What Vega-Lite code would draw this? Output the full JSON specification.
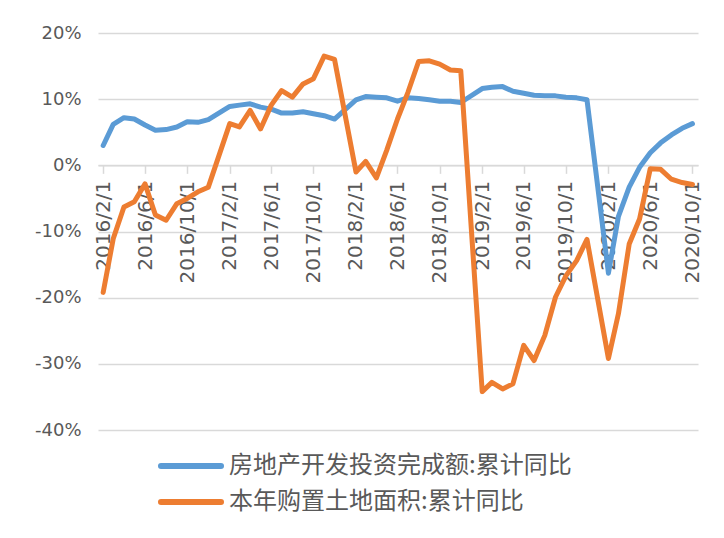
{
  "$schema": "https://vega.github.io/schema/vega-lite/v6.json",
  "width": 600,
  "height": 397,
  "autosize": "none",
  "padding": {"left": 98, "top": 33, "right": 26, "bottom": 108},
  "background": "white",
  "config": {"view": {"stroke": null}},
  "data": {"values": [
    {"date": "2016-02-01", "房地产开发投资完成额:累计同比": 3.0, "本年购置土地面积:累计同比": -19.2},
    {"date": "2016-03-01", "房地产开发投资完成额:累计同比": 6.2, "本年购置土地面积:累计同比": -11.1},
    {"date": "2016-04-01", "房地产开发投资完成额:累计同比": 7.2, "本年购置土地面积:累计同比": -6.3},
    {"date": "2016-05-01", "房地产开发投资完成额:累计同比": 7.0, "本年购置土地面积:累计同比": -5.5},
    {"date": "2016-06-01", "房地产开发投资完成额:累计同比": 6.1, "本年购置土地面积:累计同比": -2.8},
    {"date": "2016-07-01", "房地产开发投资完成额:累计同比": 5.3, "本年购置土地面积:累计同比": -7.5},
    {"date": "2016-08-01", "房地产开发投资完成额:累计同比": 5.4, "本年购置土地面积:累计同比": -8.3},
    {"date": "2016-09-01", "房地产开发投资完成额:累计同比": 5.8, "本年购置土地面积:累计同比": -5.8},
    {"date": "2016-10-01", "房地产开发投资完成额:累计同比": 6.6, "本年购置土地面积:累计同比": -5.0},
    {"date": "2016-11-01", "房地产开发投资完成额:累计同比": 6.5, "本年购置土地面积:累计同比": -4.0},
    {"date": "2016-12-01", "房地产开发投资完成额:累计同比": 6.9, "本年购置土地面积:累计同比": -3.3},
    {"date": "2017-02-01", "房地产开发投资完成额:累计同比": 8.9, "本年购置土地面积:累计同比": 6.3},
    {"date": "2017-03-01", "房地产开发投资完成额:累计同比": 9.1, "本年购置土地面积:累计同比": 5.8},
    {"date": "2017-04-01", "房地产开发投资完成额:累计同比": 9.3, "本年购置土地面积:累计同比": 8.3},
    {"date": "2017-05-01", "房地产开发投资完成额:累计同比": 8.8, "本年购置土地面积:累计同比": 5.5},
    {"date": "2017-06-01", "房地产开发投资完成额:累计同比": 8.5, "本年购置土地面积:累计同比": 9.1},
    {"date": "2017-07-01", "房地产开发投资完成额:累计同比": 7.9, "本年购置土地面积:累计同比": 11.3},
    {"date": "2017-08-01", "房地产开发投资完成额:累计同比": 7.9, "本年购置土地面积:累计同比": 10.3},
    {"date": "2017-09-01", "房地产开发投资完成额:累计同比": 8.1, "本年购置土地面积:累计同比": 12.3},
    {"date": "2017-10-01", "房地产开发投资完成额:累计同比": 7.8, "本年购置土地面积:累计同比": 13.1},
    {"date": "2017-11-01", "房地产开发投资完成额:累计同比": 7.5, "本年购置土地面积:累计同比": 16.5},
    {"date": "2017-12-01", "房地产开发投资完成额:累计同比": 7.0, "本年购置土地面积:累计同比": 16.0},
    {"date": "2018-02-01", "房地产开发投资完成额:累计同比": 9.9, "本年购置土地面积:累计同比": -1.0},
    {"date": "2018-03-01", "房地产开发投资完成额:累计同比": 10.4, "本年购置土地面积:累计同比": 0.6},
    {"date": "2018-04-01", "房地产开发投资完成额:累计同比": 10.3, "本年购置土地面积:累计同比": -1.9},
    {"date": "2018-05-01", "房地产开发投资完成额:累计同比": 10.2, "本年购置土地面积:累计同比": 2.3},
    {"date": "2018-06-01", "房地产开发投资完成额:累计同比": 9.7, "本年购置土地面积:累计同比": 7.0},
    {"date": "2018-07-01", "房地产开发投资完成额:累计同比": 10.2, "本年购置土地面积:累计同比": 11.0},
    {"date": "2018-08-01", "房地产开发投资完成额:累计同比": 10.1, "本年购置土地面积:累计同比": 15.7},
    {"date": "2018-09-01", "房地产开发投资完成额:累计同比": 9.9, "本年购置土地面积:累计同比": 15.8},
    {"date": "2018-10-01", "房地产开发投资完成额:累计同比": 9.7, "本年购置土地面积:累计同比": 15.3},
    {"date": "2018-11-01", "房地产开发投资完成额:累计同比": 9.7, "本年购置土地面积:累计同比": 14.4},
    {"date": "2018-12-01", "房地产开发投资完成额:累计同比": 9.5, "本年购置土地面积:累计同比": 14.3},
    {"date": "2019-02-01", "房地产开发投资完成额:累计同比": 11.6, "本年购置土地面积:累计同比": -34.2},
    {"date": "2019-03-01", "房地产开发投资完成额:累计同比": 11.8, "本年购置土地面积:累计同比": -32.8},
    {"date": "2019-04-01", "房地产开发投资完成额:累计同比": 11.9, "本年购置土地面积:累计同比": -33.8},
    {"date": "2019-05-01", "房地产开发投资完成额:累计同比": 11.2, "本年购置土地面积:累计同比": -33.0},
    {"date": "2019-06-01", "房地产开发投资完成额:累计同比": 10.9, "本年购置土地面积:累计同比": -27.2},
    {"date": "2019-07-01", "房地产开发投资完成额:累计同比": 10.6, "本年购置土地面积:累计同比": -29.5},
    {"date": "2019-08-01", "房地产开发投资完成额:累计同比": 10.5, "本年购置土地面积:累计同比": -25.7},
    {"date": "2019-09-01", "房地产开发投资完成额:累计同比": 10.5, "本年购置土地面积:累计同比": -19.9},
    {"date": "2019-10-01", "房地产开发投资完成额:累计同比": 10.3, "本年购置土地面积:累计同比": -16.7},
    {"date": "2019-11-01", "房地产开发投资完成额:累计同比": 10.2, "本年购置土地面积:累计同比": -14.4},
    {"date": "2019-12-01", "房地产开发投资完成额:累计同比": 9.9, "本年购置土地面积:累计同比": -11.2},
    {"date": "2020-02-01", "房地产开发投资完成额:累计同比": -16.3, "本年购置土地面积:累计同比": -29.2},
    {"date": "2020-03-01", "房地产开发投资完成额:累计同比": -7.7, "本年购置土地面积:累计同比": -22.4},
    {"date": "2020-04-01", "房地产开发投资完成额:累计同比": -3.3, "本年购置土地面积:累计同比": -11.9},
    {"date": "2020-05-01", "房地产开发投资完成额:累计同比": -0.3, "本年购置土地面积:累计同比": -8.1},
    {"date": "2020-06-01", "房地产开发投资完成额:累计同比": 1.9, "本年购置土地面积:累计同比": -0.5},
    {"date": "2020-07-01", "房地产开发投资完成额:累计同比": 3.4, "本年购置土地面积:累计同比": -0.6},
    {"date": "2020-08-01", "房地产开发投资完成额:累计同比": 4.6, "本年购置土地面积:累计同比": -2.1},
    {"date": "2020-09-01", "房地产开发投资完成额:累计同比": 5.6, "本年购置土地面积:累计同比": -2.6},
    {"date": "2020-10-01", "房地产开发投资完成额:累计同比": 6.3, "本年购置土地面积:累计同比": -2.9}
  ]},
  "transform": [
    {"fold": ["房地产开发投资完成额:累计同比", "本年购置土地面积:累计同比"], "as": ["series", "value"]}
  ],
  "mark": {"type": "line", "strokeWidth": 5, "strokeCap": "round", "strokeJoin": "round"},
  "encoding": {
    "x": {
      "field": "date",
      "type": "temporal",
      "scale": {
        "type": "utc",
        "domain": [
          {"year": 2016, "month": 1, "date": 17, "utc": true},
          {"year": 2020, "month": 10, "date": 17, "utc": true}
        ]
      },
      "axis": {
        "title": null,
        "format": "%Y/%-m/%-d",
        "values": [
          {"year": 2016, "month": 2, "date": 1, "utc": true},
          {"year": 2016, "month": 6, "date": 1, "utc": true},
          {"year": 2016, "month": 10, "date": 1, "utc": true},
          {"year": 2017, "month": 2, "date": 1, "utc": true},
          {"year": 2017, "month": 6, "date": 1, "utc": true},
          {"year": 2017, "month": 10, "date": 1, "utc": true},
          {"year": 2018, "month": 2, "date": 1, "utc": true},
          {"year": 2018, "month": 6, "date": 1, "utc": true},
          {"year": 2018, "month": 10, "date": 1, "utc": true},
          {"year": 2019, "month": 2, "date": 1, "utc": true},
          {"year": 2019, "month": 6, "date": 1, "utc": true},
          {"year": 2019, "month": 10, "date": 1, "utc": true},
          {"year": 2020, "month": 2, "date": 1, "utc": true},
          {"year": 2020, "month": 6, "date": 1, "utc": true},
          {"year": 2020, "month": 10, "date": 1, "utc": true}
        ],
        "labelAngle": -90,
        "labelFont": "DejaVu Sans",
        "labelFontSize": 20,
        "labelColor": "#595959",
        "labelPadding": 7,
        "labelOverlap": false,
        "labelFlush": false,
        "domainColor": "#d9d9d9",
        "domainWidth": 1.5,
        "tickColor": "#d9d9d9",
        "tickWidth": 1.5,
        "tickSize": 8,
        "grid": false,
        "offset": -264.67
      }
    },
    "y": {
      "field": "value",
      "type": "quantitative",
      "scale": {"domain": [-40, 20], "nice": false, "zero": false},
      "axis": {
        "title": null,
        "values": [-40, -30, -20, -10, 0, 10, 20],
        "labelExpr": "datum.value + '%'",
        "domain": false,
        "ticks": false,
        "labelPadding": 17,
        "labelFont": "DejaVu Sans",
        "labelFontSize": 18,
        "labelColor": "#595959",
        "gridColor": "#d9d9d9",
        "gridWidth": 1.5
      }
    },
    "color": {
      "field": "series",
      "type": "nominal",
      "scale": {
        "domain": ["房地产开发投资完成额:累计同比", "本年购置土地面积:累计同比"],
        "range": ["#5B9BD5", "#ED7D31"]
      },
      "legend": {
        "title": null,
        "orient": "none",
        "legendX": 69,
        "legendY": 409,
        "direction": "vertical",
        "padding": 0,
        "symbolType": "M-1.43,0H1.43",
        "symbolSize": 1764,
        "symbolStrokeWidth": 6,
        "labelFont": "Noto Sans CJK SC",
        "labelFontSize": 24,
        "labelColor": "#595959",
        "labelOffset": 14,
        "rowPadding": 0,
        "labelLimit": 600,
        "encode": {"symbols": {"update": {"strokeCap": {"value": "round"}}}}
      }
    }
  }
}
